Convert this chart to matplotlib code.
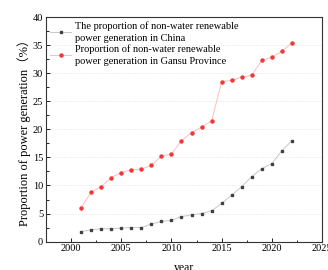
import matplotlib.pyplot as plt
import numpy as np

years = np.arange(2001, 2023)
china = [1.8, 2.1, 2.3, 2.3, 2.4, 2.5, 2.5, 3.15, 3.6, 3.8, 4.45, 4.8,
         5.0, 5.5, 6.8, 8.3, 9.8, 11.6, 13.0, 13.9, 16.2, 18.0]
gansu = [6.0, 8.8, 9.8, 11.4, 12.3, 12.8, 12.9, 13.6, 15.2, 15.6, 18.0, 19.4,
         20.4, 21.5, 28.5, 28.7, 29.3, 29.6, 32.3, 32.8, 33.9, 35.4]

plt.rcParams['font.family'] = ['Liberation Serif', 'Noto Sans CJK SC']

fig = plt.figure(figsize=(3.28, 2.70), dpi=100)
ax = fig.add_axes([0.140, 0.105, 0.842, 0.832])

ax.plot(years, china, color='#c8c8c8', lw=0.7, marker='s', ms=2.0,
        mfc='#404040', mec='#404040',
        label="The proportion of non-water renewable\npower generation in China")
ax.plot(years, gansu, color='#ffbcbc', lw=0.7, marker='o', ms=2.2,
        mfc='#f03838', mec='#f03838',
        label="Proportion of non-water renewable\npower generation in Gansu Province")

ax.set_xlim(1997.5, 2025)
ax.set_ylim(0, 40)
ax.set_xticks(range(2000, 2026, 5))
ax.set_xticks(np.arange(2002.5, 2025, 5), minor=True)
ax.set_yticks(range(0, 41, 5))
ax.set_yticks(np.arange(2.5, 40, 5), minor=True)
ax.tick_params(which='both', direction='in', labelsize=7.5, pad=2)
ax.tick_params(which='major', length=3, width=0.6)
ax.tick_params(which='minor', length=1.8, width=0.6)
ax.grid(axis='y', which='major', color='#e0e0e0', ls=':', lw=0.6)
for s in ax.spines.values():
    s.set_linewidth(0.8)
    s.set_color('#333333')

ax.set_xlabel('year', fontsize=8.5, labelpad=6)
ax.set_ylabel('Proportion of power generation（%）', fontsize=9, labelpad=1)

leg = ax.legend(loc='upper left', frameon=False, fontsize=7.5, handlelength=2.0,
                handletextpad=0.4, borderaxespad=0.1, labelspacing=0.15,
                borderpad=0.3)
for t in leg.get_texts():
    t.set_linespacing(1.45)

fig.savefig('out.png', dpi=100)
